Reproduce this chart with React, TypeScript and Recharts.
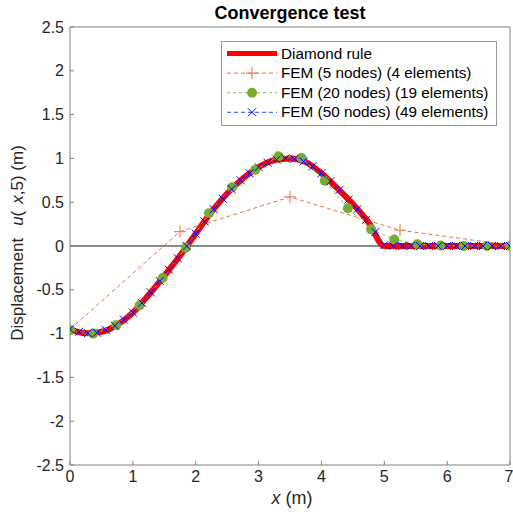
import { LineChart, Line, XAxis, YAxis } from "recharts";

// Diamond rule (reference solution)
const diamondX = [0, 0.25, 0.5, 0.75, 1, 1.25, 1.5, 1.75, 2, 2.25, 2.5, 2.75, 3, 3.25, 3.5, 3.75, 4, 4.25, 4.5, 4.75, 5, 6, 7];
const diamondU = [-0.95, -0.995, -0.98, -0.9, -0.76, -0.56, -0.34, -0.11, 0.14, 0.39, 0.6, 0.77, 0.9, 0.98, 1.0, 0.96, 0.83, 0.66, 0.48, 0.27, 0, 0, 0];

// FEM 5 nodes
const fem5X = [0, 1.75, 3.5, 5.25, 7];
const fem5U = [-0.95, 0.165, 0.56, 0.18, 0.01];

// FEM 20 nodes
const fem20X = [0, 0.368, 0.737, 1.105, 1.474, 1.842, 2.211, 2.579, 2.947, 3.316, 3.684, 4.053, 4.421, 4.789, 5.158, 5.526, 5.895, 6.263, 6.632, 7];
const fem20U = [-0.96, -1.0, -0.905, -0.68, -0.365, -0.02, 0.375, 0.67, 0.87, 1.025, 1.005, 0.745, 0.43, 0.19, 0.075, 0.02, 0.005, 0, 0, 0];

// FEM 50 nodes
const fem50X = [
  0, 0.143, 0.286, 0.429, 0.571, 0.714, 0.857, 1, 1.143, 1.286, 1.429, 1.571, 1.714, 1.857, 2, 2.143, 2.286,
  2.429, 2.571, 2.714, 2.857, 3, 3.143, 3.286, 3.429, 3.571, 3.714, 3.857, 4, 4.143, 4.286, 4.429, 4.571,
  4.714, 4.857, 5, 5.143, 5.286, 5.429, 5.571, 5.714, 5.857, 6, 6.143, 6.286, 6.429, 6.571, 6.714, 6.857, 7,
];
const fem50U = [
  -0.95, -0.98, -0.995, -0.99, -0.96, -0.91, -0.84, -0.76, -0.65, -0.53, -0.4, -0.27, -0.14, 0, 0.14, 0.28, 0.42,
  0.54, 0.65, 0.75, 0.83, 0.9, 0.95, 0.985, 1.0, 0.995, 0.965, 0.91, 0.83, 0.74, 0.64, 0.53, 0.42,
  0.3, 0.16, 0.01, 0, 0, 0, 0, 0, 0, 0, 0, 0, 0, 0, 0, 0, 0,
];

const zeroX = [0, 7];
const zeroU = [0, 0];

const xTicks = [0, 1, 2, 3, 4, 5, 6, 7];
const yTicks = [-2.5, -2, -1.5, -1, -0.5, 0, 0.5, 1, 1.5, 2, 2.5];

const toRows = (xs: number[], us: number[]) => xs.map((x, i) => ({ x, u: us[i] }));

const font = "'Liberation Sans', Arial, sans-serif";
const axisColor = "#808080";
const tickStyle = { fontSize: 16, fill: "#262626", fontFamily: font };

const PlusDot = (p: any) => (
  <path
    key={`plus-${p.index}`}
    d={`M${p.cx - 6},${p.cy}h12M${p.cx},${p.cy - 6}v12`}
    stroke="#E8875F"
    strokeWidth={1.2}
    fill="none"
  />
);
const CircleDot = (p: any) => <circle key={`c-${p.index}`} cx={p.cx} cy={p.cy} r={5} fill="#77AC30" />;
const CrossDot = (p: any) => (
  <path
    key={`x-${p.index}`}
    d={`M${p.cx - 4},${p.cy - 4}l8,8M${p.cx - 4},${p.cy + 4}l8,-8`}
    stroke="#0000FF"
    strokeWidth={1}
    fill="none"
  />
);

const legendRows = [
  { label: "Diamond rule", kind: "red" },
  { label: "FEM (5 nodes) (4 elements)", kind: "fem5" },
  { label: "FEM (20 nodes) (19 elements)", kind: "fem20" },
  { label: "FEM (50 nodes) (49 elements)", kind: "fem50" },
];

const LegendBox = () => (
  <svg style={{ position: "absolute", left: 221, top: 41 }} width={276} height={85}>
    <rect x={0.5} y={0.5} width={275} height={84} fill="#fff" stroke="#999" />
    {legendRows.map((r, i) => {
      const cy = 12.5 + i * 19.6;
      return (
        <g key={r.kind}>
          {r.kind === "red" && <line x1={6} x2={56} y1={cy} y2={cy} stroke="#FF0000" strokeWidth={5} />}
          {r.kind === "fem5" && (
            <>
              <line x1={6} x2={56} y1={cy} y2={cy} stroke="#D95319" strokeOpacity={0.8} strokeDasharray="4 3" />
              <path d={`M${25},${cy}h12M${31},${cy - 6}v12`} stroke="#E8875F" strokeWidth={1.2} />
            </>
          )}
          {r.kind === "fem20" && (
            <>
              <line x1={6} x2={56} y1={cy} y2={cy} stroke="#8CC063" strokeDasharray="3 3" />
              <circle cx={31} cy={cy} r={5} fill="#77AC30" />
            </>
          )}
          {r.kind === "fem50" && (
            <>
              <line x1={6} x2={56} y1={cy} y2={cy} stroke="#3344FF" strokeDasharray="4 3" />
              <path d={`M27,${cy - 4}l8,8M27,${cy + 4}l8,-8`} stroke="#0000FF" />
            </>
          )}
          <text x={60} y={cy + 5} fontSize={15.3} fontFamily={font} fill="#000">
            {r.label}
          </text>
        </g>
      );
    })}
  </svg>
);

export default function App() {
  return (
    <div style={{ position: "absolute", left: 0, top: 0, width: 513, height: 521, background: "#fff" }}>
      <LineChart width={513} height={521} margin={{ top: 26, right: 2, bottom: 1, left: 0 }}>
        <XAxis
          xAxisId="b"
          dataKey="x"
          type="number"
          domain={[0, 7]}
          ticks={xTicks}
          allowDataOverflow
          height={55}
          stroke={axisColor}
          tickSize={-4}
          tickMargin={10}
          tick={tickStyle}
        />
        <XAxis
          xAxisId="t"
          orientation="top"
          type="number"
          domain={[0, 7]}
          ticks={xTicks}
          height={1}
          stroke={axisColor}
          tickSize={-4}
          tick={false}
        />
        <YAxis
          yAxisId="l"
          type="number"
          domain={[-2.5, 2.5]}
          ticks={yTicks}
          allowDataOverflow
          width={70}
          stroke={axisColor}
          tickSize={-4}
          tickMargin={10}
          tick={tickStyle}
        />
        <YAxis
          yAxisId="r"
          orientation="right"
          type="number"
          domain={[-2.5, 2.5]}
          ticks={yTicks}
          width={1}
          stroke={axisColor}
          tickSize={-4}
          tick={false}
        />
        <Line
          xAxisId="b"
          yAxisId="l"
          data={toRows(zeroX, zeroU)}
          dataKey="u"
          stroke="#8a8a8a"
          strokeWidth={2}
          dot={false}
          isAnimationActive={false}
        />
        <Line
          xAxisId="b"
          yAxisId="l"
          data={toRows(diamondX, diamondU)}
          dataKey="u"
          type="monotone"
          stroke="#FF0000"
          strokeWidth={6}
          dot={false}
          isAnimationActive={false}
        />
        <Line
          xAxisId="b"
          yAxisId="l"
          data={toRows(fem5X, fem5U)}
          dataKey="u"
          stroke="#D95319"
          strokeOpacity={0.8}
          strokeWidth={1}
          strokeDasharray="4 3"
          dot={PlusDot}
          isAnimationActive={false}
        />
        <Line
          xAxisId="b"
          yAxisId="l"
          data={toRows(fem20X, fem20U)}
          dataKey="u"
          stroke="#8CC063"
          strokeWidth={1}
          strokeDasharray="3 3"
          dot={CircleDot}
          isAnimationActive={false}
        />
        <Line
          xAxisId="b"
          yAxisId="l"
          data={toRows(fem50X, fem50U)}
          dataKey="u"
          stroke="#3344FF"
          strokeWidth={1}
          strokeDasharray="4 3"
          dot={CrossDot}
          isAnimationActive={false}
        />
      </LineChart>
      <div
        style={{
          position: "absolute",
          left: 90,
          width: 400,
          top: 3,
          textAlign: "center",
          fontFamily: font,
          fontWeight: "bold",
          fontSize: 18,
          color: "#000",
        }}
      >
        Convergence test
      </div>
      <div
        style={{
          position: "absolute",
          left: 92,
          width: 400,
          top: 488,
          textAlign: "center",
          fontFamily: font,
          fontSize: 18,
          color: "#262626",
        }}
      >
        <i>x</i> (m)
      </div>
      <div
        style={{
          position: "absolute",
          left: 18 - 150,
          top: 243 - 11,
          width: 300,
          height: 22,
          lineHeight: "22px",
          textAlign: "center",
          transform: "rotate(-90deg)",
          fontFamily: font,
          fontSize: 17,
          color: "#262626",
          whiteSpace: "pre",
        }}
      >
        Displacement<span style={{ marginLeft: 12 }} />
        <i>u</i>(<span style={{ marginLeft: 7 }} />
        <i>x</i>,5) (m)
      </div>
      <LegendBox />
    </div>
  );
}
